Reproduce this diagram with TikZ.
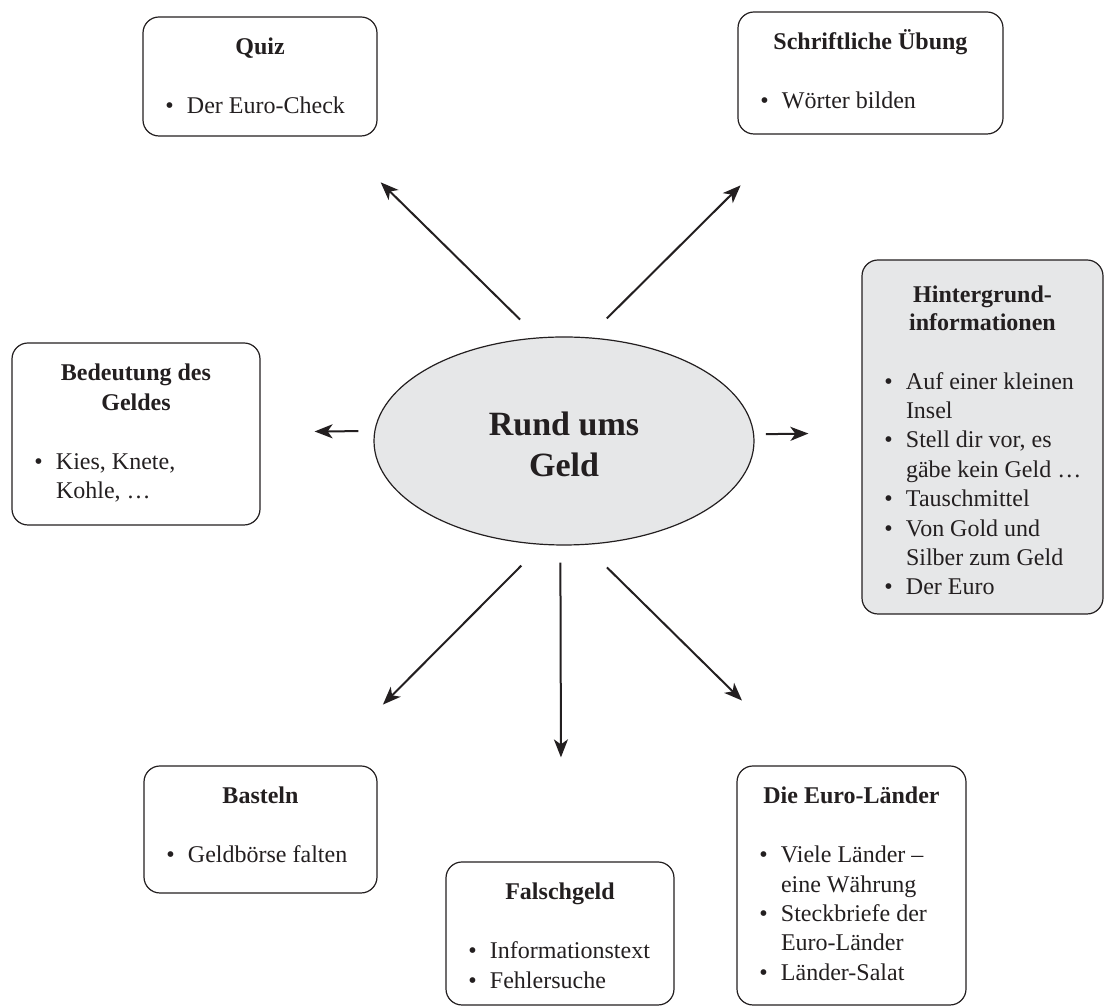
\documentclass[tikz,border=0pt]{standalone}
\usepackage{fontspec}
\setmainfont{Liberation Serif}
\usetikzlibrary{arrows.meta,shapes.geometric}
\definecolor{hellgrau}{RGB}{230,231,232}
\definecolor{tinte}{RGB}{35,31,32}
\tikzset{
    %Define standard arrow tip
    >={Stealth[length=9pt,width=7pt,inset=2.5pt]},
    font=\fontsize{12}{14.7}\selectfont,
    %Define style for boxes
    kasten/.style={
           rectangle,
           rounded corners=8pt,
           draw=tinte, line width=0.6pt,
           inner sep=0pt},
    grauerkasten/.style={kasten, fill=hellgrau},
    % Define arrow style
    pfeil/.style={
           ->,
           line width=1pt},
    % Define style for the centre
    thema/.style={ellipse,fill=hellgrau,draw=tinte,line width=0.6pt,
           minimum width=190pt,minimum height=104pt,
           align=center,text height=36pt,text depth=0pt,
           font=\fontsize{17}{20.5}\selectfont\bfseries}
}
% box contents: width, height, text
\newcommand{\inhalt}[3]{\parbox[c][#2][t]{#1}{\parskip=0pt\raggedright#3}}
\newcommand{\titel}[2][19pt]{{\centering\rule{0pt}{#1}\bfseries#2\par}\vspace{14.7pt}}
\newcommand{\punkt}{\par\hangindent=22pt\hangafter=1\noindent\hspace*{11.2pt}\makebox[10.8pt][l]{\textbullet}}

\begin{document}
\begin{tikzpicture}[x=0.5pt,y=0.5pt,color=tinte]
  \useasboundingbox (0,0) rectangle (1105,1007);
  \node[thema] (geld) at (564,566) {Rund ums\\Geld};
  \node[kasten] (quiz) at (260,930.5) {\inhalt{117pt}{59.5pt}{\titel{Quiz}
    \punkt Der Euro-Check}};
  \node[kasten] (schrift) at (870.5,934) {\inhalt{132.5pt}{61pt}{\titel{Schriftliche Übung}
    \punkt Wörter bilden}};
  \node[grauerkasten] (hinter) at (982.5,570) {\inhalt{120.5pt}{177pt}{\titel[21.5pt]{Hintergrund-\\[-1pt]informationen}
    \punkt Auf einer kleinen\newline Insel
    \punkt Stell dir vor, es\newline gäbe kein Geld …
    \punkt Tauschmittel
    \punkt Von Gold und\newline Silber zum Geld
    \punkt Der Euro}};
  \node[kasten] (bedeutung) at (136,573) {\inhalt{124pt}{91pt}{\titel{Bedeutung des\\Geldes}
    \punkt Kies, Knete,\newline Kohle, …}};
  \node[kasten] (basteln) at (260.5,177.5) {\inhalt{116.5pt}{63.5pt}{\titel{Basteln}
    \punkt Geldbörse falten}};
  \node[kasten] (falsch) at (560,73.5) {\inhalt{114pt}{71.5pt}{\titel{Falschgeld}
    \punkt Informationstext
    \punkt Fehlersuche}};
  \node[kasten] (laender) at (851.5,121.5) {\inhalt{114.5pt}{119.5pt}{\titel{Die Euro-Länder}
    \punkt Viele Länder –\newline eine Währung
    \punkt Steckbriefe der\newline Euro-Länder
    \punkt Länder-Salat}};
  \path[pfeil]
    (geld.104) edge[shorten <=12.7pt,shorten >=32.6pt] (quiz.-39)
    (geld.77) edge[shorten <=13.3pt,shorten >=36pt] (schrift.-142)
    (geld.2) edge[shorten <=5.8pt,shorten >=26.5pt] (hinter.178)
    (geld.177) edge[shorten <=7.9pt,shorten >=27pt] (bedeutung.1)
    (geld.-102) edge[shorten <=14.6pt,shorten >=42.9pt] (basteln.46)
    (geld.-92) edge[shorten <=8.5pt,shorten >=52pt] (falsch.89)
    (geld.-79) edge[shorten <=16pt,shorten >=46.2pt] (laender.110);
\end{tikzpicture}
\end{document}
